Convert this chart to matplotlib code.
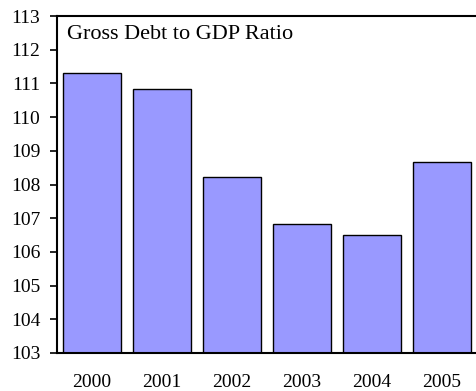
import matplotlib
matplotlib.use("Agg")
import matplotlib.pyplot as plt

# Gross debt to GDP ratio
years = ["2000", "2001", "2002", "2003", "2004", "2005"]
ratio = [111.31, 110.84, 108.23, 106.82, 106.5, 108.68]
y_ticks = list(range(103, 114))

plt.rcParams["font.family"] = ["Liberation Serif", "DejaVu Serif"]

fig = plt.figure(figsize=(4.77, 3.91), dpi=100)
ax = fig.add_axes([0.1195, 0.0972, 0.8805, 0.8618])

x = range(len(years))
ax.bar(x, ratio, width=0.83, bottom=0, color="#9999FF",
       edgecolor="black", linewidth=1.0)

ax.set_xlim(-0.5, 5.5)
ax.set_ylim(103, 113)
ax.set_yticks(y_ticks)
ax.set_yticklabels([str(t) for t in y_ticks], fontsize=14)
ax.set_xticks(list(x))
ax.set_xticklabels(years, fontsize=14)

ax.tick_params(axis="y", direction="out", length=5, width=1.2, pad=7)
ax.tick_params(axis="x", length=0, pad=15)

for side in ["left", "bottom", "top"]:
    ax.spines[side].set_linewidth(1.5)
ax.spines["right"].set_visible(False)

ax.text(0.024, 0.945, "Gross Debt to GDP Ratio", transform=ax.transAxes,
        fontsize=16, va="center", ha="left")

fig.savefig("out.png", dpi=100)
